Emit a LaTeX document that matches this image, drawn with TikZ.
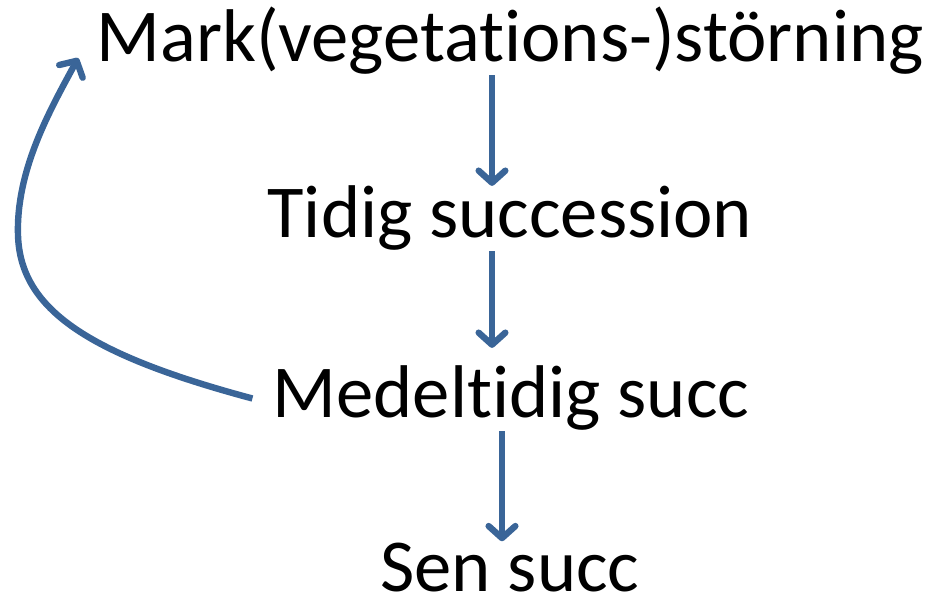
\documentclass[tikz,border=0pt]{standalone}
\usepackage{fontspec}
\setmainfont{Carlito}[Ligatures=CommonOff]
\usetikzlibrary{arrows.meta}
\definecolor{flowblue}{RGB}{58,101,152}
\tikzstyle{stage}=[inner sep=0pt, anchor=base, font=\fontsize{56}{64}\selectfont]
\tikzstyle{flow} = [draw=flowblue, line width=4.8pt, -{Straight Barb[length=9pt,width=20pt,round]}]

\begin{document}
\begin{tikzpicture}[x=0.75pt, y=-0.75pt]
	\useasboundingbox (0,0) rectangle (932,605);
	% First we place the stages
	\node[stage] (mark) at (510,62) {Mark(vegetations-)störning};
	\node[stage] (tidig) at (510,238) {Tidig succession};
	\node[stage] (medel) at (511,418) {Medeltidig succ};
	\node[stage] (sen) at (510,592) {Sen succ};

	% Then the steps downwards
	\foreach \source/\dest/\xpos/\sa/\sb in {mark/tidig/492/0/0, tidig/medel/492/0/18, medel/sen/502/0/2}
	\path[flow, shorten <=\sa*0.75pt, shorten >=\sb*0.75pt] (\source.south -| \xpos,0) -- (\dest.north -| \xpos,0);

	% and the way back to the top
	\path[flow] ([xshift=-20*0.75pt]medel.west) .. controls (90,355) and (20,310) .. (18,235)
		.. controls (16,170) and (50,110) .. ([shift={(-18,-4)}]mark.base west);
\end{tikzpicture}
\end{document}
